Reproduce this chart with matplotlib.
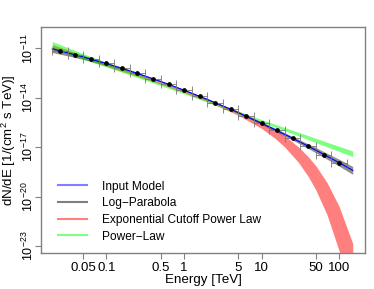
import numpy as np
import matplotlib
matplotlib.use("Agg")
import matplotlib.pyplot as plt

# energy grid for the fitted model bands [TeV]
energy = [0.02, 0.05, 0.1, 0.2, 0.5, 1, 2, 5, 10, 15, 20, 30, 40, 50, 70, 100, 150]

# log10 of dN/dE on that grid
input_model = [-11.03, -11.52, -11.93, -12.37, -13.01, -13.54, -14.10, -14.90, -15.55,
               -15.94, -16.23, -16.64, -16.94, -17.18, -17.55, -17.94, -18.41]
logpar_hi = [-10.93, -11.43, -11.84, -12.30, -12.96, -13.50, -14.06, -14.85, -15.48,
             -15.85, -16.13, -16.52, -16.80, -17.02, -17.37, -17.73, -18.17]
logpar_lo = [-11.25, -11.67, -12.02, -12.44, -13.06, -13.58, -14.14, -14.95, -15.62,
             -16.03, -16.33, -16.76, -17.08, -17.34, -17.73, -18.15, -18.65]
ecpl_hi = [-10.77, -11.42, -11.92, -12.41, -13.06, -13.56, -14.07, -14.80, -15.46,
           -15.93, -16.32, -16.99, -17.58, -18.12, -19.15, -20.59, -22.85]
ecpl_lo = [-11.05, -11.64, -12.10, -12.55, -13.18, -13.68, -14.23, -15.06, -15.86,
           -16.47, -17.00, -17.93, -18.78, -19.58, -21.11, -23.29, -26.81]
pl_hi = [-10.59, -11.32, -11.87, -12.41, -13.12, -13.64, -14.15, -14.82, -15.32,
         -15.61, -15.81, -16.10, -16.30, -16.46, -16.70, -16.95, -17.23]
pl_lo = [-11.03, -11.66, -12.13, -12.61, -13.26, -13.76, -14.27, -14.96, -15.48,
         -15.79, -16.01, -16.32, -16.54, -16.72, -16.98, -17.25, -17.57]

# simulated data points
pt_energy = [0.0251, 0.0398, 0.0631, 0.1, 0.158, 0.251, 0.398, 0.631, 1.0, 1.585,
             2.512, 3.981, 6.31, 10.0, 15.85, 25.12, 39.81, 63.1, 100.0]
pt_flux = [-11.15, -11.38, -11.66, -11.92, -12.22, -12.52, -12.85, -13.19, -13.54, -13.91,
           -14.30, -14.69, -15.12, -15.56, -15.98, -16.47, -16.93, -17.45, -17.96]

xticks = [0.05, 0.1, 0.5, 1, 5, 10, 50, 100]
xticklabels = ["0.05", "0.1", "0.5", "1", "5", "10", "50", "100"]
yticks = [-11, -14, -17, -20, -23]

plt.rcParams['font.family'] = ['Liberation Sans', 'DejaVu Sans']
plt.rcParams['mathtext.fontset'] = 'custom'
plt.rcParams['mathtext.rm'] = 'Liberation Sans'
plt.rcParams['mathtext.it'] = 'Liberation Sans'
plt.rcParams['mathtext.default'] = 'rm'


def main():
    fig = plt.figure(figsize=(3.74, 2.89), dpi=100)
    ax = fig.add_axes([0.1096, 0.1235, 0.8664, 0.782])

    e = np.array(energy)
    p = lambda v: 10.0 ** np.array(v)

    ax.fill_between(e, p(ecpl_lo), p(ecpl_hi), color=(1, 0, 0, 0.5), lw=0)
    ax.fill_between(e, p(logpar_lo), p(logpar_hi), color=(0.2, 0.2, 0.2, 0.55), lw=0)
    ax.fill_between(e, p(pl_lo), p(pl_hi), color=(0, 1, 0, 0.5), lw=0)
    ax.plot(e, p(input_model), color='blue', lw=0.8)

    pe = np.array(pt_energy)
    xerr = [pe - pe * 10 ** -0.1, pe * 10 ** 0.1 - pe]
    ax.errorbar(pe, p(pt_flux), xerr=xerr, fmt='none', ecolor='#777777',
                elinewidth=0.6, capsize=3, capthick=0.6)
    ax.plot(pe, p(pt_flux), 'o', color='black', ms=2.4)

    # legend entries
    ax.plot([], [], color=(0, 0, 1, 0.5), lw=1.5, label='Input Model')
    ax.plot([], [], color=(0, 0, 0, 0.5), lw=1.5, label='Log\u2212Parabola')
    ax.plot([], [], color=(1, 0, 0, 0.5), lw=1.5, label='Exponential Cutoff Power Law')
    ax.plot([], [], color=(0, 1, 0, 0.5), lw=1.5, label='Power\u2212Law')

    ax.set_xscale('log')
    ax.set_yscale('log')
    ax.set_xlim(0.0143, 216)
    ax.set_ylim(10 ** -23.44, 10 ** -9.725)

    ax.set_xticks(xticks)
    ax.set_xticklabels(xticklabels)
    ax.minorticks_off()
    ax.set_yticks([10.0 ** v for v in yticks])
    ax.set_yticklabels([r'$10^{%d}$' % v for v in yticks], rotation=90, va='center')

    for s in ax.spines.values():
        s.set_color('#808080')
        s.set_linewidth(1.0)
    ax.tick_params(axis='both', colors='#808080', labelcolor='black', length=4,
                   width=0.8, labelsize=9.5, pad=2)
    ax.tick_params(axis='y', pad=-0.5, labelsize=9)

    ax.set_xlabel('Energy [TeV]', fontsize=9.6, labelpad=0)
    ax.set_ylabel('dN/dE [1/(cm$^2$ s TeV)]', fontsize=9.6)
    ax.yaxis.set_label_coords(-0.072, 0.5)

    h, l = ax.get_legend_handles_labels()
    ax.legend(h[-4:], l[-4:], loc='lower left', bbox_to_anchor=(0.02, 0.0), frameon=False,
              fontsize=8.6, handlelength=2.4, handletextpad=1.3, labelspacing=0.39)

    fig.savefig('out.png', dpi=100)


if __name__ == "__main__":
    main()
